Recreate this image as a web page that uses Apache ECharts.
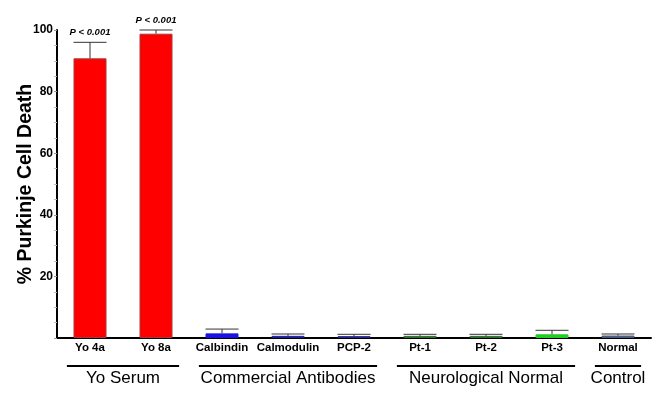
<!DOCTYPE html>
<html>
<head>
<meta charset="utf-8">
<script src="https://cdn.jsdelivr.net/npm/echarts@6/dist/echarts.min.js"></script>
<style>
  html, body { margin: 0; padding: 0; background: #fff; }
  #chart { width: 663px; height: 395px; }
</style>
</head>
<body>
<div id="chart"></div>
<script>
// data
var categories = ['Yo 4a', 'Yo 8a', 'Calbindin', 'Calmodulin', 'PCP-2', 'Pt-1', 'Pt-2', 'Pt-3', 'Normal'];
var deathPct = [90.8, 98.8, 1.5, 0.7, 0.6, 0.7, 0.7, 1.2, 0.8];
var errorPct = [5.2, 1.2, 1.4, 0.6, 0.6, 0.5, 0.5, 1.3, 0.5];
var barColors = ['#ff0000', '#ff0000', '#1a14e0', '#1c1c9c', '#26268e', '#2d6e2d', '#2d6e2d', '#22cc22', '#4a5a80'];
var pLabels = ['P < 0.001', 'P < 0.001', '', '', '', '', '', '', ''];
var yTicks = [20, 40, 60, 80, 100];

var groupNames = ['Yo Serum', 'Commercial Antibodies', 'Neurological Normal', 'Control'];
var groupFrom = [0, 2, 5, 8];
var groupTo = [1, 4, 7, 8];

var font = 'Arial, "Liberation Sans", sans-serif';

var chart = echarts.init(document.getElementById('chart'));

var barData = deathPct.map(function (v, i) {
    return {
        value: v,
        itemStyle: {
            color: barColors[i],
            borderColor: i < 2 ? '#a33a3a' : barColors[i],
            borderWidth: 1
        }
    };
});

var errData = deathPct.map(function (v, i) {
    return [i, v, errorPct[i]];
});

var groupData = groupNames.map(function (n, i) {
    return [groupFrom[i], groupTo[i]];
});

var option = {
    animation: false,
    grid: { left: 57, right: 12, top: 30, bottom: 57, containLabel: false, outerBoundsMode: 'none' },
    xAxis: {
        type: 'category',
        data: categories,
        axisLine: { lineStyle: { color: '#000', width: 2 } },
        axisTick: { show: false },
        axisLabel: {
            interval: 0,
            color: '#000', fontFamily: font, fontWeight: 'bold', fontSize: 11.5, margin: 4
        }
    },
    yAxis: {
        type: 'value',
        min: 0,
        max: 100,
        interval: 20,
        name: '% Purkinje Cell Death',
        nameLocation: 'middle',
        nameGap: 21,
        nameMoveOverlap: false,
        nameTextStyle: { color: '#000', fontFamily: font, fontWeight: 'bold', fontSize: 19.5 },
        axisLine: { show: true, lineStyle: { color: '#000', width: 2 } },
        axisTick: { show: true, length: 3, lineStyle: { color: '#999' } },
        minorTick: { show: true, splitNumber: 4, length: 3, lineStyle: { color: '#bbb' } },
        splitLine: { show: false },
        axisLabel: {
            color: '#000', fontFamily: font, fontWeight: 'bold', fontSize: 12, margin: 4,
            formatter: function (v) { return yTicks.indexOf(v) >= 0 ? String(v) : ''; }
        }
    },
    series: [
        {
            type: 'bar',
            data: barData,
            barWidth: 33
        },
        {
            type: 'custom',
            data: errData,
            z: 3,
            renderItem: function (params, api) {
                var base = api.coord([api.value(0), api.value(1)]);
                var top = api.coord([api.value(0), api.value(1) + api.value(2)]);
                var half = 16.5;
                var children = [
                    { type: 'line', shape: { x1: base[0], y1: base[1], x2: top[0], y2: top[1] },
                      style: { stroke: '#333', lineWidth: 1 } },
                    { type: 'line', shape: { x1: top[0] - half, y1: top[1], x2: top[0] + half, y2: top[1] },
                      style: { stroke: '#333', lineWidth: 1 } }
                ];
                var lbl = pLabels[params.dataIndex];
                if (lbl) {
                    children.push({
                        type: 'text',
                        style: {
                            text: lbl, x: top[0], y: top[1] - 10,
                            align: 'center', verticalAlign: 'middle',
                            font: 'italic bold 9.5px ' + font, fill: '#000'
                        }
                    });
                }
                return { type: 'group', children: children };
            }
        },
        {
            type: 'custom',
            data: groupData,
            renderItem: function (params, api) {
                var a = api.coord([api.value(0), 0]);
                var b = api.coord([api.value(1), 0]);
                var ext = api.size([1, 0])[0] * 0.35;
                var y = a[1] + 28;
                return {
                    type: 'group',
                    children: [
                        { type: 'line', shape: { x1: a[0] - ext, y1: y, x2: b[0] + ext, y2: y },
                          style: { stroke: '#000', lineWidth: 2 } },
                        { type: 'text', style: {
                            text: groupNames[params.dataIndex], x: (a[0] + b[0]) / 2, y: y + 12,
                            align: 'center', verticalAlign: 'middle',
                            font: '17px ' + font, fill: '#000' } }
                    ]
                };
            }
        }
    ]
};

chart.setOption(option);
</script>
</body>
</html>
